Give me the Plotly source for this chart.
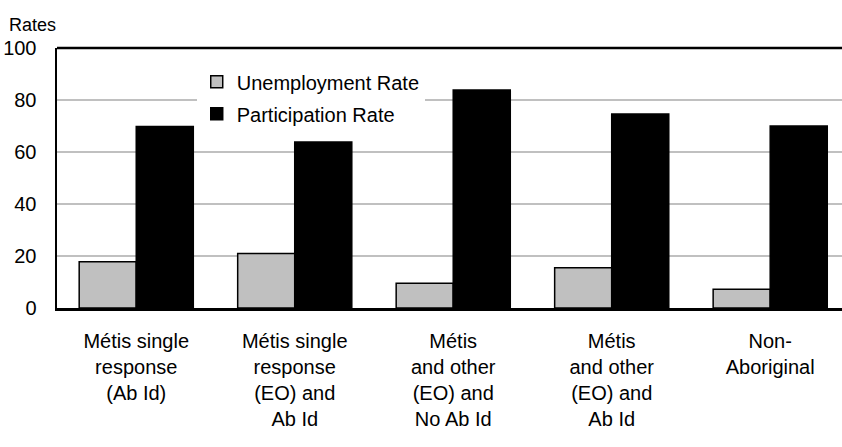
import plotly.graph_objects as go

categories = [
    "Métis single<br>response<br>(Ab Id)",
    "Métis single<br>response<br>(EO) and<br>Ab Id",
    "Métis<br>and other<br>(EO) and<br>No Ab Id",
    "Métis<br>and other<br>(EO) and<br>Ab Id",
    "Non-<br>Aboriginal",
]
unemployment = [17.8, 21.0, 9.5, 15.5, 7.2]
participation = [69.8, 63.8, 83.8, 74.6, 70.0]
y_ticks = [0, 20, 40, 60, 80, 100]

FONT = "Liberation Sans, Arial, sans-serif"

fig = go.Figure()
fig.add_trace(go.Bar(
    x=categories, y=unemployment, name="Unemployment Rate", legendgroup="u",
    marker=dict(color="#c0c0c0", line=dict(color="black", width=1.5)),
))
fig.add_trace(go.Bar(
    x=categories, y=participation, name="Participation Rate", legendgroup="p",
    marker=dict(color="black", line=dict(color="black", width=1.5)),
))

fig.update_layout(
    width=842, height=447,
    margin=dict(l=57, r=0, t=48, b=139),
    paper_bgcolor="white", plot_bgcolor="white",
    barmode="group", bargap=0.28, bargroupgap=0,
    font=dict(family=FONT, size=20, color="black"),
    showlegend=True, hovermode=False,
    legend=dict(
        x=0.178, y=0.945, xanchor="left", yanchor="top",
        bgcolor="white", borderwidth=0,
        font=dict(family=FONT, size=20, color="black"),
        tracegroupgap=3,
    ),
    xaxis=dict(
        type="category", range=[-0.5, 4.453],
        showline=True, linecolor="black", linewidth=2.5,
        showgrid=False, ticks="", ticklabelstandoff=13,
        tickfont=dict(family=FONT, size=20, color="black"),
    ),
    yaxis=dict(
        range=[0, 100], tickvals=y_ticks,
        showline=True, linecolor="black", linewidth=2.5,
        showgrid=True, gridcolor="#c0c0c0", gridwidth=1.5,
        zeroline=False, ticks="", ticklabelstandoff=14,
        tickfont=dict(family=FONT, size=20, color="black"),
    ),
    shapes=[dict(
        type="line", xref="paper", yref="paper", x0=0, x1=1, y0=1, y1=1,
        line=dict(color="black", width=2.5),
    )],
    annotations=[dict(
        text="Rates", xref="paper", yref="paper", x=-57/785, y=1 + 24/260,
        xanchor="left", yanchor="middle", showarrow=False,
        font=dict(family=FONT, size=18, color="black"), xshift=7, yshift=-1,
    )],
)

fig.write_html(
    "out.html",
    config={"displayModeBar": False, "staticPlot": True},
    post_script="document.body.style.margin='0';document.body.style.overflow='hidden';",
)
